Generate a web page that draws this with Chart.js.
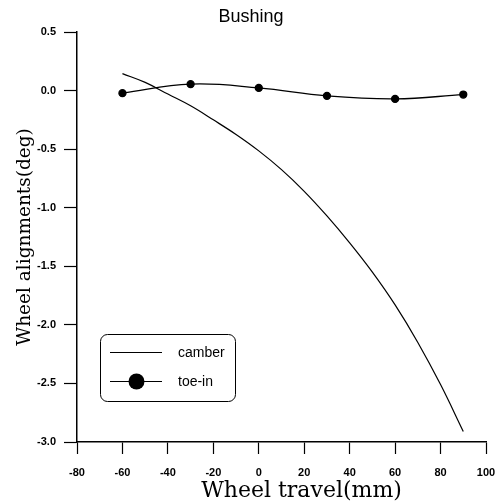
<!DOCTYPE html>
<html>
<head>
<meta charset="utf-8">
<script src="https://cdn.jsdelivr.net/npm/chart.js@4/dist/chart.umd.min.js"></script>
<style>
  html, body { margin: 0; padding: 0; background: #fff; }
  #wrap { width: 498px; height: 501px; }
</style>
</head>
<body>
<div id="wrap"><canvas id="c" width="498" height="501"></canvas></div>
<script>
// Wheel travel (mm) vs. wheel alignment angles (deg), bushing suspension
const camberTravel = [-60, -50, -40, -30, -20, -10, 0, 10, 20, 30, 40, 50, 60, 70, 80, 90];
const camberDeg    = [0.145, 0.07, -0.03, -0.13, -0.25, -0.375, -0.515, -0.675, -0.86, -1.07, -1.30, -1.55, -1.83, -2.15, -2.51, -2.91];

const toeTravel = [-60, -30, 0, 30, 60, 90];
const toeDeg    = [-0.022, 0.055, 0.023, -0.045, -0.071, -0.034];

const xTicks = [-80, -60, -40, -20, 0, 20, 40, 60, 80, 100];
const yTicks = [0.5, 0.0, -0.5, -1.0, -1.5, -2.0, -2.5, -3.0];

const chartTitle = 'Bushing';
const xTitle = 'Wheel travel(mm)';
const yTitle = 'Wheel alignments(deg)';
const seriesNames = ['camber', 'toe-in'];

const toXY = (xs, ys) => xs.map((x, i) => ({ x: x, y: ys[i] }));

const tickFont = { family: 'Liberation Sans', size: 11, weight: 'bold' };

// Titles and the framed legend box are painted after the datasets
const decorations = {
  id: 'decorations',
  afterDraw(chart) {
    const ctx = chart.ctx;
    const area = chart.chartArea;
    ctx.save();
    ctx.fillStyle = '#000';
    ctx.textAlign = 'center';
    ctx.textBaseline = 'alphabetic';

    ctx.font = '18px "Liberation Sans"';
    ctx.fillText(chartTitle, 251, 22);

    ctx.font = '22px "DejaVu Serif"';
    ctx.fillText(xTitle, (area.left + area.right) / 2 + 20, 497);

    ctx.save();
    ctx.font = '18.5px "DejaVu Serif"';
    ctx.translate(30, (area.top + area.bottom) / 2);
    ctx.rotate(-Math.PI / 2);
    ctx.fillText(yTitle, 0, 0);
    ctx.restore();

    // legend frame
    const bx = 100.5, by = 334.5, bw = 135, bh = 67, r = 7;
    ctx.strokeStyle = '#000';
    ctx.lineWidth = 1;
    ctx.beginPath();
    ctx.roundRect(bx, by, bw, bh, r);
    ctx.stroke();

    const ds = chart.data.datasets;
    const rows = [352.5, 381.5];
    ctx.font = '14px "Liberation Sans"';
    ctx.textAlign = 'left';
    ctx.textBaseline = 'middle';
    rows.forEach((ry, i) => {
      ctx.strokeStyle = ds[i].borderColor;
      ctx.lineWidth = 1.2;
      ctx.beginPath();
      ctx.moveTo(110, ry);
      ctx.lineTo(162, ry);
      ctx.stroke();
      if (ds[i].pointRadius > 0) {
        ctx.fillStyle = ds[i].pointBackgroundColor;
        ctx.beginPath();
        ctx.arc(136.5, ry, 8, 0, Math.PI * 2);
        ctx.fill();
      }
      ctx.fillStyle = '#000';
      ctx.fillText(seriesNames[i], 178, ry + 1);
    });
    ctx.restore();
  }
};

new Chart(document.getElementById('c'), {
  type: 'scatter',
  data: {
    datasets: [
      {
        label: seriesNames[0],
        data: toXY(camberTravel, camberDeg),
        showLine: true,
        borderColor: '#000',
        borderWidth: 1.2,
        pointRadius: 0,
        tension: 0.4
      },
      {
        label: seriesNames[1],
        data: toXY(toeTravel, toeDeg),
        showLine: true,
        borderColor: '#000',
        borderWidth: 1.3,
        pointRadius: 3.5,
        pointBackgroundColor: '#000',
        pointBorderColor: '#000',
        tension: 0.4
      }
    ]
  },
  options: {
    responsive: false,
    devicePixelRatio: 1,
    animation: false,
    layout: { padding: { left: 0, right: 12, top: 32, bottom: 0 } },
    plugins: {
      legend: { display: false },
      title: { display: false },
      tooltip: { enabled: false }
    },
    scales: {
      x: {
        type: 'linear',
        min: xTicks[0],
        max: xTicks[xTicks.length - 1],
        afterBuildTicks(scale) { scale.ticks = xTicks.map(v => ({ value: v })); },
        afterFit(scale) {
          scale.height = 59;
          scale.paddingLeft = 0;
          scale.paddingRight = 0;
        },
        ticks: {
          font: tickFont,
          color: '#000',
          padding: 12,
          maxRotation: 0,
          callback: v => String(v)
        },
        grid: { drawOnChartArea: false, tickLength: 12, tickColor: '#000', tickWidth: 1.2 },
        border: { color: '#000', width: 1.5 }
      },
      y: {
        type: 'linear',
        min: -3,
        max: 0.5,
        afterBuildTicks(scale) { scale.ticks = yTicks.map(v => ({ value: v })); },
        afterFit(scale) { scale.width = 77; },
        ticks: {
          font: tickFont,
          color: '#000',
          padding: 8,
          callback: v => Number(v).toFixed(1)
        },
        grid: { drawOnChartArea: false, tickLength: 13, tickColor: '#000', tickWidth: 1.2 },
        border: { color: '#000', width: 1.5 }
      }
    }
  },
  plugins: [decorations]
});
</script>
</body>
</html>
